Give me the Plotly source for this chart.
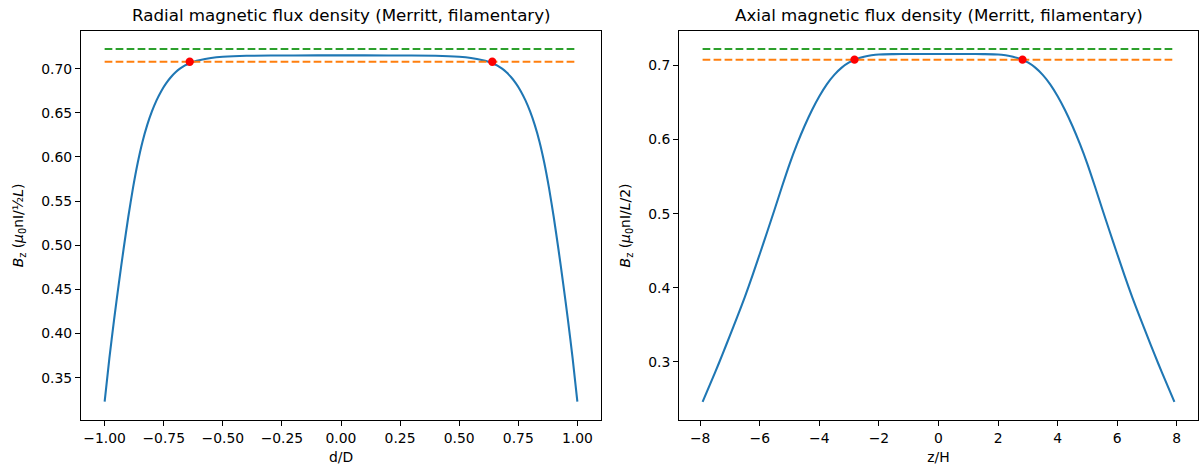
import plotly.graph_objects as go

# ---------------- data ----------------
radial_half_d = [-1.0, -0.98, -0.96, -0.94, -0.92, -0.90, -0.88, -0.86, -0.84, -0.82, -0.80,
                 -0.78, -0.76, -0.74, -0.72, -0.70, -0.68, -0.66, -0.64, -0.62, -0.60,
                 -0.55, -0.50, -0.40, -0.20, 0.0]
radial_half_b = [0.3229, 0.3719, 0.4159, 0.4567, 0.4955, 0.5320, 0.5650, 0.5935, 0.6170, 0.6360, 0.6515,
                 0.6643, 0.6748, 0.6833, 0.6902, 0.6958, 0.7002, 0.7036, 0.7061, 0.7081, 0.7096,
                 0.7121, 0.7134, 0.7145, 0.7149, 0.7150]
# the radial profile is symmetric about d = 0
radial_d = radial_half_d + [-v for v in reversed(radial_half_d[:-1])]
radial_b = radial_half_b + list(reversed(radial_half_b[:-1]))

axial_half_z = [-7.92, -7.5, -7.25, -7.0, -6.75, -6.5, -6.25, -6.0, -5.75, -5.5, -5.25, -5.0,
                -4.75, -4.5, -4.25, -4.0, -3.75, -3.5, -3.25, -3.0, -2.75, -2.5, -2.25, -2.0,
                -1.5, -1.0, 0.0]
axial_half_b = [0.2462, 0.2859, 0.3105, 0.3359, 0.3614, 0.3877, 0.4162, 0.4457, 0.4757, 0.5060, 0.5371, 0.5670,
                0.5938, 0.6180, 0.6396, 0.6585, 0.6745, 0.6873, 0.6971, 0.7041, 0.7088, 0.7119, 0.7138, 0.7149,
                0.7153, 0.7155, 0.7155]
# the axial profile is symmetric about z = 0
axial_z = axial_half_z + [-v for v in reversed(axial_half_z[:-1])]
axial_b = axial_half_b + list(reversed(axial_half_b[:-1]))

radial_ends = [-1.0, 1.0]
axial_ends = [-7.92, 7.92]
max_level = 0.7222          # green dashed line
level_98 = 0.7078           # orange dashed line
radial_marks_x = [-0.640, 0.640]
axial_marks_x = [-2.82, 2.82]

x_ticks_left = [-1.0, -0.75, -0.5, -0.25, 0.0, 0.25, 0.5, 0.75, 1.0]
y_ticks_left = [0.35, 0.40, 0.45, 0.50, 0.55, 0.60, 0.65, 0.70]
x_ticks_right = [-8, -6, -4, -2, 0, 2, 4, 6, 8]
y_ticks_right = [0.3, 0.4, 0.5, 0.6, 0.7]

# ---------------- styling ----------------
BLUE, ORANGE, GREEN = "#1f77b4", "#ff7f0e", "#2ca02c"
FONT = "DejaVu Sans"
DASH = "7.7px,3.3px"
TICK_SIZE = 13.9
TITLE_SIZE = 16.7

fig = go.Figure()

def add_panel(xs, ys, ends, marks, xa, ya):
    fig.add_trace(go.Scatter(x=xs, y=ys, mode="lines",
                             line=dict(color=BLUE, width=2.08, shape="spline", smoothing=0.6),
                             xaxis=xa, yaxis=ya, showlegend=False, hoverinfo="skip"))
    fig.add_trace(go.Scatter(x=ends, y=[level_98] * len(ends), mode="lines",
                             line=dict(color=ORANGE, width=2.08, dash=DASH),
                             xaxis=xa, yaxis=ya, showlegend=False))
    fig.add_trace(go.Scatter(x=ends, y=[max_level] * len(ends), mode="lines",
                             line=dict(color=GREEN, width=2.08, dash=DASH),
                             xaxis=xa, yaxis=ya, showlegend=False))
    fig.add_trace(go.Scatter(x=marks, y=[level_98] * len(marks), mode="markers",
                             marker=dict(color="red", size=8.3),
                             xaxis=xa, yaxis=ya, showlegend=False))

add_panel(radial_d, radial_b, radial_ends, radial_marks_x, "x", "y")
add_panel(axial_z, axial_b, axial_ends, axial_marks_x, "x2", "y2")

axis_common = dict(showline=True, linecolor="black", linewidth=1, mirror=True,
                   ticks="outside", ticklen=5, tickcolor="black", tickwidth=1,
                   showgrid=False, zeroline=False, automargin=False,
                   tickfont=dict(family=FONT, size=TICK_SIZE, color="black"))

L, R, T, B = 81, 1, 31, 52
W, H = 1199, 472
pw = W - L - R
left_dom = [0, 520 / pw]
right_dom = [(679 - L) / pw, 1]

fig.update_layout(
    width=W, height=H,
    margin=dict(l=L, r=R, t=T, b=B, autoexpand=False),
    paper_bgcolor="white", plot_bgcolor="white",
    font=dict(family=FONT, color="black"),
    xaxis=dict(domain=left_dom, range=[-1.1, 1.1], tickvals=x_ticks_left, tickformat=".2f",
               title=dict(text="d/D", font=dict(family=FONT, size=TICK_SIZE), standoff=7),
               anchor="y", **axis_common),
    yaxis=dict(domain=[0, 1], range=[0.3022, 0.7426], tickvals=y_ticks_left, tickformat=".2f",
               title=dict(text="<i>B</i><sub>z</sub> (<i>μ</i><sub>0</sub>nI/½<i>L</i>)",
                          font=dict(family=FONT, size=TICK_SIZE), standoff=14),
               anchor="x", **axis_common),
    xaxis2=dict(domain=right_dom, range=[-8.712, 8.712], tickvals=x_ticks_right, tickformat="d",
                title=dict(text="z/H", font=dict(family=FONT, size=TICK_SIZE), standoff=7),
                anchor="y2", **axis_common),
    yaxis2=dict(domain=[0, 1], range=[0.2217, 0.7465], tickvals=y_ticks_right, tickformat=".1f",
                title=dict(text="<i>B</i><sub>z</sub> (<i>μ</i><sub>0</sub>nI/<i>L</i>/2)",
                           font=dict(family=FONT, size=TICK_SIZE), standoff=14),
                anchor="x2", **axis_common),
    annotations=[
        dict(text="Radial magnetic flux density (Merritt, filamentary)", xref="paper", yref="paper",
             x=(left_dom[0] + left_dom[1]) / 2, y=1, xanchor="center", yanchor="bottom", yshift=3.5,
             showarrow=False, font=dict(family=FONT, size=TITLE_SIZE, color="black")),
        dict(text="Axial magnetic flux density (Merritt, filamentary)", xref="paper", yref="paper",
             x=(right_dom[0] + right_dom[1]) / 2, y=1, xanchor="center", yanchor="bottom", yshift=3.5,
             showarrow=False, font=dict(family=FONT, size=TITLE_SIZE, color="black")),
    ],
)

fig.write_html("out.html", config={"displayModeBar": False},
               post_script="document.body.style.margin='0';document.body.style.overflow='hidden';")
